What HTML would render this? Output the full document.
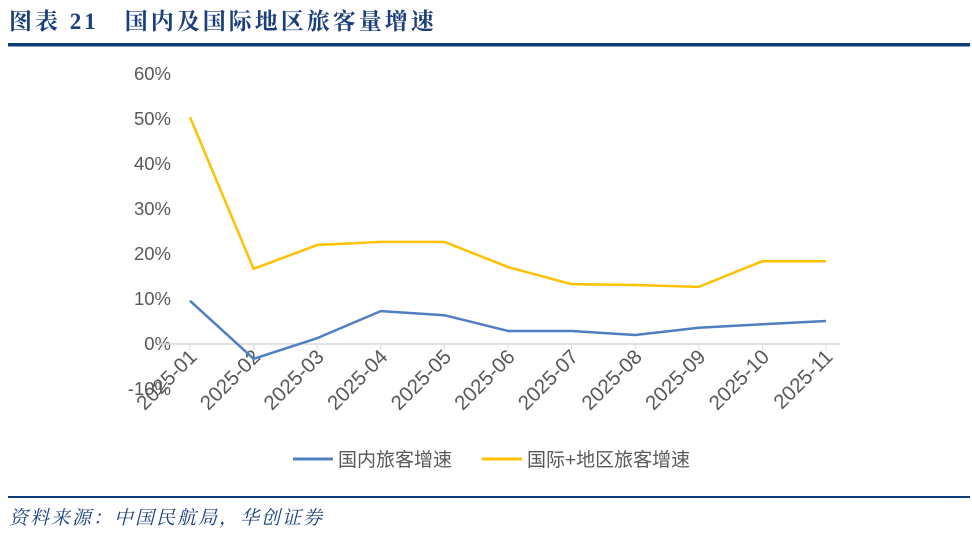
<!DOCTYPE html>
<html><head><meta charset="utf-8"><style>
body{margin:0;background:#fff;width:972px;height:534px;overflow:hidden;font-family:"Liberation Sans","Noto Sans CJK SC",sans-serif}
</style></head><body>
<svg width="972" height="534" xmlns="http://www.w3.org/2000/svg" id="chart">
<text x="9" y="29" font-size="23" font-weight="bold" letter-spacing="3" fill="#1a3f7c" font-family="'Liberation Serif','Noto Serif CJK SC',serif">图表 21　国内及国际地区旅客量增速</text>
<rect x="8" y="43" width="962" height="3.5" fill="#0e3d7a"/>
<rect x="8" y="496" width="962" height="2" fill="#0e3d7a"/>
<text x="9" y="524" font-size="19" font-style="italic" letter-spacing="2" fill="#1a3f7c" font-family="'Liberation Serif','Noto Serif CJK SC',serif">资料来源：中国民航局，华创证券</text>
<g id="axes"></g><g id="series"></g>
<g>
<line x1="293" y1="459" x2="333" y2="459" stroke="#4f7fc0" stroke-width="3"/>
<text x="338" y="466" font-size="19" fill="#595959">国内旅客增速</text>
<line x1="482" y1="459" x2="522" y2="459" stroke="#ffc000" stroke-width="3"/>
<text x="527" y="466" font-size="19" fill="#595959">国际+地区旅客增速</text>
</g>
</svg>
<script>
const categories=["2025-01","2025-02","2025-03","2025-04","2025-05","2025-06","2025-07","2025-08","2025-09","2025-10","2025-11"];
const domestic=[9.6,-3.3,1.3,7.3,6.4,2.9,2.9,2.0,3.6,4.4,5.1];
const international=[50.4,16.7,22.0,22.7,22.7,17.1,13.3,13.1,12.7,18.4,18.4];
const yTicks=[-10,0,10,20,30,40,50,60];
const NS="http://www.w3.org/2000/svg";
function xs(i){return 190+i*(826-190)/(categories.length-1);}
function ys(v){return 344-v*4.5;}
const axes=document.getElementById('axes'),series=document.getElementById('series');
function mk(t,a,p){const e=document.createElementNS(NS,t);for(const k in a)e.setAttribute(k,a[k]);p.appendChild(e);return e;}
yTicks.forEach(v=>{const t=mk('text',{x:171,y:ys(v)+6,'font-size':18.5,fill:'#595959','text-anchor':'end'},axes);t.textContent=v+'%';

});
const ax=mk('line',{x1:158,x2:840,y1:ys(0),y2:ys(0),stroke:'#d9d9d9','stroke-width':1.5},axes);


categories.forEach((c,i)=>{const tk=mk('line',{x1:xs(i),x2:xs(i),y1:ys(0),y2:ys(0)+6,stroke:'#d9d9d9'},axes);


const t=mk('text',{x:xs(i)+8,y:ys(0)+14,'font-size':20.5,fill:'#595959','text-anchor':'end',transform:`rotate(-45 ${xs(i)+8} ${ys(0)+14})`},axes);t.textContent=c;

});
function line(d,col,name){const p=mk('polyline',{points:d.map((v,i)=>xs(i)+','+ys(v)).join(' '),fill:'none',stroke:col,'stroke-width':2.5,'stroke-linejoin':'round'},series);

}
line(international,'#ffc000','international-line');
line(domestic,'#4f7fc0','domestic-line');
</script>
</body></html>
